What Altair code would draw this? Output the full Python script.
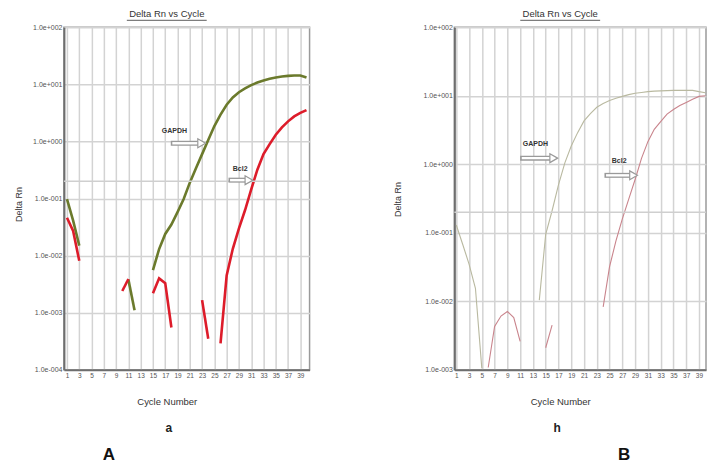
import altair as alt
import pandas as pd

# ---------------- data ----------------
cycles = list(range(1, 41))
N = None
a_gapdh = [0.098, 0.041, 0.015, N, N, N, N, N, N, N,
           0.0038, 0.0011, N, N, 0.0056, 0.013, 0.024, 0.035, 0.058, 0.098,
           0.19, 0.34, 0.6, 1.06, 1.86, 2.96, 4.4, 5.9, 7.3, 8.5,
           9.7, 10.8, 11.7, 12.5, 13.2, 13.7, 14.1, 14.3, 14.3, 13.2]
a_bcl2 = [0.046, 0.027, 0.0081, N, N, N, N, N, N, 0.0024,
          0.0039, N, N, N, 0.0022, 0.0040, 0.0033, 0.00055, N, N,
          N, N, 0.00166, 0.00035, N, 0.00029, 0.0045, 0.0132, 0.030, 0.063,
          0.145, 0.32, 0.60, 0.90, 1.31, 1.76, 2.25, 2.75, 3.16, 3.55]
b_gapdh = [0.13, 0.068, 0.035, 0.0155, 0.00105, N, N, N, N, N,
           N, N, N, 0.0104, 0.095, 0.21, 0.5, 1.05, 1.85, 2.9,
           4.3, 5.5, 6.8, 7.7, 8.55, 9.2, 9.8, 10.4, 10.9, 11.2,
           11.5, 11.7, 11.8, 11.9, 12.0, 12.0, 12.0, 12.0, 11.5, 11.1]
b_bcl2 = [N, N, N, N, N, 0.00108, 0.0043, 0.0061, 0.0071, 0.0058,
          0.0026, N, N, N, 0.0021, 0.0045, N, N, N, N,
          N, N, N, 0.0083, 0.032, 0.076, 0.16, 0.31, 0.60, 1.22,
          2.14, 3.24, 4.2, 5.4, 6.3, 7.2, 8.0, 8.9, 9.8, 10.0]

threshold = 0.2
x_ticks = list(range(1, 40, 2))
a_y_ticks = [1e-4, 1e-3, 1e-2, 1e-1, 1e0, 1e1, 1e2]
b_y_ticks = [1e-3, 1e-2, 1e-1, 1e0, 1e1, 1e2]

# annotation labels: (text, cycle, value)
a_notes = [("GAPDH", 18.5, 1.5), ("Bcl2", 29.2, 0.33)]
b_notes = [("GAPDH", 13.4, 1.97), ("Bcl2", 26.5, 1.12)]
# arrows: (start cycle, end cycle, value)
a_arrows = [(17.9, 23.7, 0.93), (27.3, 31.4, 0.21)]
b_arrows = [(11.0, 17.0, 1.23), (24.2, 29.5, 0.69)]

FONT = "Liberation Sans"


def lines_frame(series):
    rows = []
    for name, vals in series:
        seg = 0
        for c, v in zip(cycles, vals):
            if v is None:
                seg += 1
                continue
            rows.append({"cycle": c, "value": v, "series": name, "seg": f"{name}-{seg}"})
    return pd.DataFrame(rows)


def panel(series, colors, lw, x_dom, y_dom, y_ticks, w, h, notes, arrows,
          title_x, ytitle_x, ytitle_y, xtitle_x, sub_label, sub_x, big_label, big_x,
          head_cyc):
    xs = alt.Scale(domain=x_dom, nice=False, zero=False)
    ys = alt.Scale(type="log", domain=y_dom, nice=False)
    label_expr = "'1.0e' + (datum.value >= 1 ? '+00' : '-00') + abs(round(log(datum.value) / LN10))"
    xaxis = alt.Axis(values=x_ticks, grid=True, ticks=False, labelFontSize=6.5,
                     labelPadding=3, title="Cycle Number", titleFontSize=9.5,
                     titleX=xtitle_x, titleY=27, labelFlush=False, labelOverlap=False)
    yaxis = alt.Axis(values=y_ticks, grid=True, ticks=False, labelFontSize=7,
                     labelPadding=2, labelExpr=label_expr, title="Delta Rn",
                     titleFontSize=9, titleX=ytitle_x, titleY=ytitle_y, labelFlush=False,
                     labelOverlap=False)

    def X(field):
        return alt.X(field, scale=xs, axis=xaxis)

    def Y(field):
        return alt.Y(field, scale=ys, axis=yaxis)

    df = lines_frame(series)
    names = [s[0] for s in series]

    lines = alt.Chart(df).mark_line(strokeWidth=lw).encode(
        x=X("cycle:Q"),
        y=Y("value:Q"),
        color=alt.Color("series:N", scale=alt.Scale(domain=names, range=colors), legend=None),
        detail="seg:N",
    )

    thr = alt.Chart(pd.DataFrame({"value": [threshold]})).mark_rule(
        color="#cfcfcf", strokeWidth=1.5).encode(y=Y("value:Q"))

    ndf = pd.DataFrame(notes, columns=["label", "cycle", "value"])
    note_marks = alt.Chart(ndf).mark_text(font=FONT, fontSize=7, fontWeight="bold",
                                          color="#333").encode(
        x=X("cycle:Q"), y=Y("value:Q"), text="label:N")

    adf = pd.DataFrame(arrows, columns=["x0", "x1", "value"])
    adf["xh"] = adf["x1"] - head_cyc
    adf["xi"] = adf["x0"] + 0.25
    shaft = alt.Chart(adf).mark_rule(color="#9a9a9a", strokeWidth=5).encode(
        x=X("x0:Q"), x2="xh:Q", y=Y("value:Q"))
    shaft_in = alt.Chart(adf).mark_rule(color="white", strokeWidth=2.4).encode(
        x=X("xi:Q"), x2="xh:Q", y=Y("value:Q"))
    head = alt.Chart(adf).mark_point(shape="triangle-right", size=80, filled=True,
                                     fill="white", stroke="#9a9a9a", strokeWidth=1.2,
                                     opacity=1).encode(
        x=X("xh:Q"), y=Y("value:Q"))

    tdf = pd.DataFrame({"t": ["Delta Rn vs Cycle"]})
    title = alt.Chart(tdf).mark_text(font=FONT, fontSize=9.5, color="#333").encode(
        text="t:N", x=alt.value(title_x), y=alt.value(-13))
    underline = alt.Chart(tdf).mark_rule(color="#333", strokeWidth=0.8).encode(
        x=alt.value(title_x - 40), x2=alt.value(title_x + 40), y=alt.value(-7))

    sdf = pd.DataFrame({"t": [sub_label]})
    sub = alt.Chart(sdf).mark_text(font=FONT, fontSize=12, fontWeight="bold", color="#222").encode(
        text="t:N", x=alt.value(sub_x), y=alt.value(h + 58))
    bdf = pd.DataFrame({"t": [big_label]})
    big = alt.Chart(bdf).mark_text(font=FONT, fontSize=17, fontWeight="bold", color="#111").encode(
        text="t:N", x=alt.value(big_x), y=alt.value(h + 85))

    return alt.layer(lines, thr, shaft, shaft_in, head, note_marks, title, underline, sub, big
                     ).properties(width=w, height=h)


pA = panel([("GAPDH", a_gapdh), ("Bcl2", a_bcl2)], ["#6b7a2c", "#dd1c2a"], 2.6,
           [0.5, 40.5], [1e-4, 1e2], a_y_ticks, 246, 343, a_notes, a_arrows,
           title_x=103, ytitle_x=-40, ytitle_y=177, xtitle_x=103,
           sub_label="a", sub_x=105, big_label="A", big_x=45, head_cyc=0.77)
pB = panel([("GAPDH", b_gapdh), ("Bcl2", b_bcl2)], ["#b9b9a0", "#c9848c"], 1.1,
           [0.7, 40.1], [1e-3, 1e2], b_y_ticks, 252, 343, b_notes, b_arrows,
           title_x=106, ytitle_x=-52, ytitle_y=172, xtitle_x=106,
           sub_label="h", sub_x=103, big_label="B", big_x=170, head_cyc=0.74)

chart = alt.hconcat(pA, pB, spacing=145, bounds="flush").resolve_scale(
    color="independent"
).properties(
    padding={"left": 6, "top": 0, "right": 0, "bottom": 0}
).configure_view(stroke="#9a9a9a", strokeWidth=1.5).configure_axis(
    gridColor="#d3d3d3", gridWidth=1.5, domainColor="#6e6e6e", domainWidth=2,
    labelColor="#555", labelFont=FONT, titleFont=FONT, titleFontWeight="normal",
    titleColor="#333")

chart.save("out.html", embed_options={"renderer": "svg", "actions": False})
